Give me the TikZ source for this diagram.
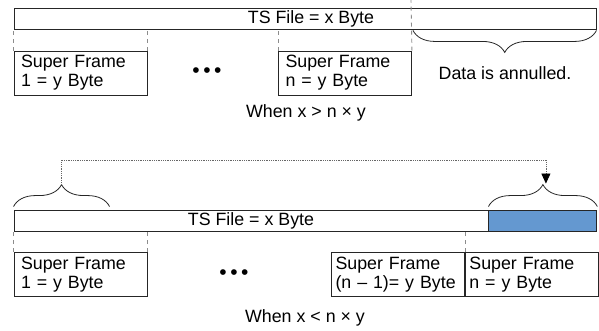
\documentclass[tikz,border=0pt]{standalone}
\usepackage{fontspec}
\setmainfont{Liberation Sans}
\usetikzlibrary{positioning,arrows.meta,calc,decorations.pathreplacing}
\definecolor{lostblue}{RGB}{100,152,208}

\begin{document}
\begin{tikzpicture}[
  x=1pt, y=1pt,
  font=\fontsize{17.8}{19}\selectfont,
  bar/.style={draw=black!85, line width=0.9pt, minimum height=21pt, inner sep=0pt},
  frame/.style={draw=black!85, line width=0.9pt, minimum width=133pt, minimum height=44pt,
                align=left, text width=125pt, inner xsep=4pt, inner ysep=0pt},
  guide/.style={draw=black!45, line width=0.9pt, dash pattern=on 4pt off 4pt},
  brc/.style={draw=black!85, line width=0.8pt, decorate, decoration={brace, amplitude=22pt}},
  link/.style={draw=black!60, line width=0.8pt, densely dotted,
               -{Triangle[length=10pt, width=9pt, color=black]}},
  lbl/.style={inner sep=1pt},
  dots/.style={inner sep=1pt, font=\fontsize{21}{21}\selectfont},
]
\useasboundingbox (0,0) rectangle (599,330);

%% ---------- case x > n*y (top) ----------
\node[bar, minimum width=582pt] (tsA) at (305,311.5) {\hspace*{12pt}TS File = x Byte};
\coordinate (cut) at (411,330);

\node[frame] (sfA1) at (80.5,257) {\hspace*{3pt}Super Frame\\\hspace*{3pt}1 = y Byte};
\node[frame] (sfAn) at (345,257) {\hspace*{3pt}Super Frame\\\hspace*{3pt}n = y Byte};
\node[dots] (dotsA) at (207,257) {•\,•\,•};

\draw[guide] (sfA1.north west) -- (sfA1.north west |- tsA.south);
\draw[guide] (sfA1.north east) -- (sfA1.north east |- tsA.south);
\draw[guide] (sfAn.north west) -- (sfAn.north west |- tsA.south);
\draw[guide] (sfAn.north east) -- (cut);

%% surplus part of the file
\draw[brc] ($(tsA.south east)+(0,-1)$) -- ($(tsA.south -| cut)+(2,-1)$);
\node[lbl] (lost) at (505,257) {Data is annulled.};

\node[lbl] (condA) at (306,217) {When x > n × y};

%% ---------- case x < n*y (bottom) ----------
\node[bar, minimum width=474pt] (tsB) at (251,109.5) {TS File = x Byte};
\node[bar, fill=lostblue, minimum width=108pt, right=0pt of tsB] (rest) {};

\node[frame] (sfB1) at (80.5,55.5) {\hspace*{3pt}Super Frame\\\hspace*{3pt}1 = y Byte};
\node[frame] (sfBm) at (398,55.5) {Super Frame\\(n – 1)= y Byte};
\node[frame, right=0pt of sfBm] (sfBn) {Super Frame\\n = y Byte};
\node[dots] (dotsB) at (234,55.5) {•\,•\,•};

\draw[guide] (sfB1.north west) -- (sfB1.north west |- tsB.south);
\draw[guide] (sfB1.north east) -- (sfB1.north east |- tsB.south);
\draw[guide] (sfBm.north east) -- (sfBm.north east |- tsB.south);

%% first part of the file is taken again for the last frame
\coordinate (bL1) at ($(tsB.north west)+(0,3)$);
\coordinate (bL2) at ($(tsB.north west)+(96,3)$);
\coordinate (bR1) at ($(rest.north west)+(0,3)$);
\coordinate (bR2) at ($(rest.north east)+(0,3)$);
\draw[brc] (bL1) -- (bL2);
\draw[brc] (bR1) -- (bR2);
\coordinate (tipL) at ($(bL1)!0.5!(bL2)+(0,22)$);
\coordinate (tipR) at ($(bR1)!0.5!(bR2)+(3,23)$);
\draw[link] (tipL) -- (tipL |- 0,170) -- (tipR |- 0,170) -- (tipR);

\node[lbl] (condB) at (305,12) {When x < n × y};

\end{tikzpicture}
\end{document}
